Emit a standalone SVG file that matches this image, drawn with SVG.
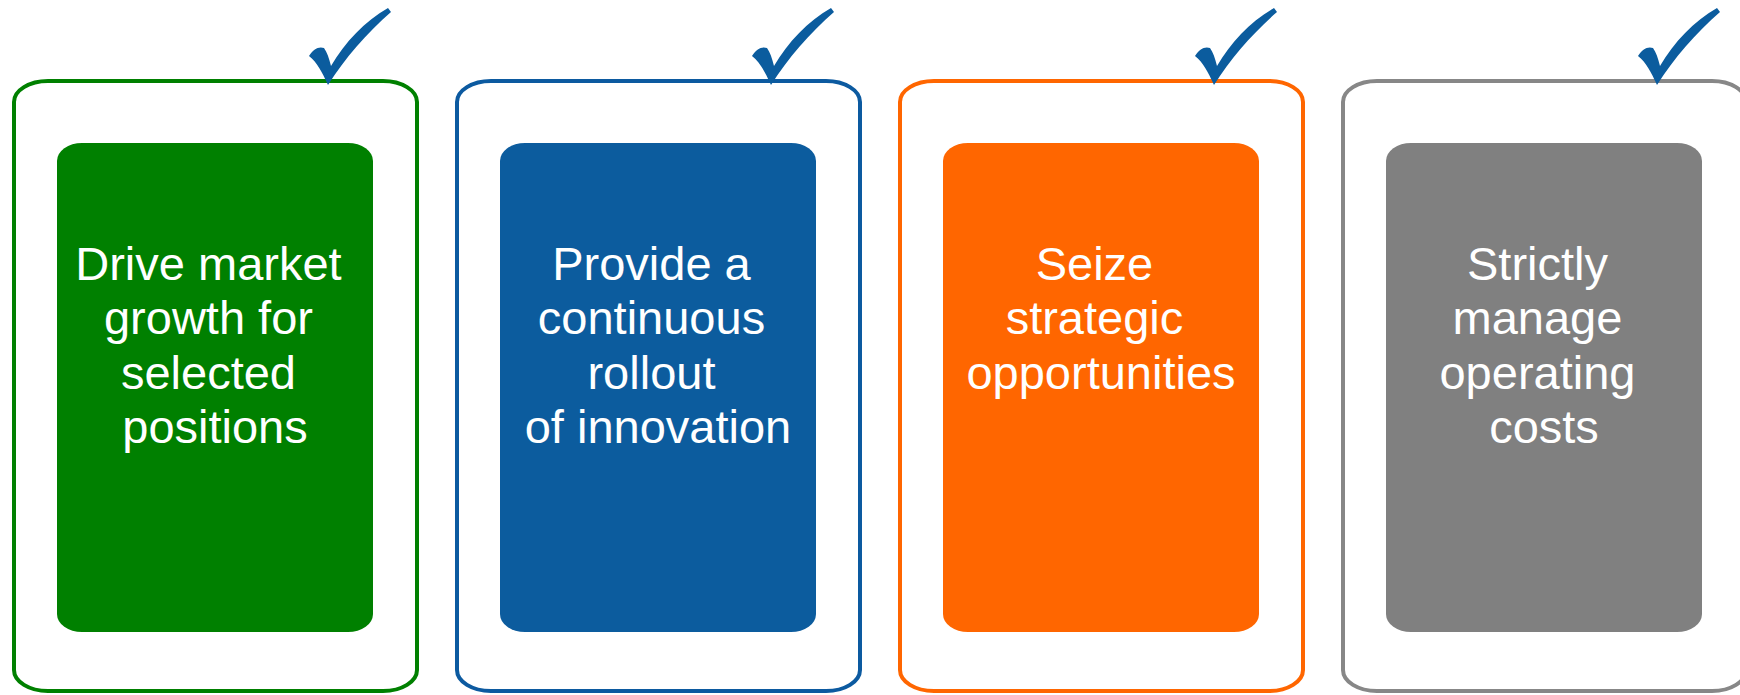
<svg xmlns="http://www.w3.org/2000/svg" width="1740" height="695" viewBox="0 0 1740 695">
  <style>
    .outer { fill: #ffffff; stroke-width: 4; }
    .inner { stroke: none; }
    .label { font-family: "Liberation Sans", Arial, sans-serif; font-size: 47px; fill: #ffffff; text-anchor: middle; }
    .check { fill: #0B5C9E; }
  </style>
  <defs>
    <path id="tick" d="M 328 85 C 322 72, 317 62, 309 56 C 313 49, 319 46, 324 48 C 327 52, 329 58, 331 66 C 345 42, 365 21, 388 8 L 391 12 C 367 33, 345 58, 328 85 Z"/>
  </defs>

  <g id="node-1">
    <rect class="outer" x="14" y="81" width="403" height="610" rx="34" ry="21" stroke="#008000"/>
    <rect class="inner" x="57" y="143" width="316" height="489" rx="25" ry="18" fill="#008000"/>
    <text class="label" x="215">
      <tspan x="215" y="280">Drive market</tspan>
      <tspan x="215" y="334">growth for</tspan>
      <tspan x="215" y="389">selected</tspan>
      <tspan x="215" y="443">positions</tspan>
    </text>
    <use href="#tick" class="check"/>
  </g>

  <g id="node-2">
    <rect class="outer" x="457" y="81" width="403" height="610" rx="34" ry="21" stroke="#0C5AA0"/>
    <rect class="inner" x="500" y="143" width="316" height="489" rx="25" ry="18" fill="#0C5C9E"/>
    <text class="label" x="658">
      <tspan x="658" y="280">Provide a</tspan>
      <tspan x="658" y="334">continuous</tspan>
      <tspan x="658" y="389">rollout</tspan>
      <tspan x="658" y="443">of innovation</tspan>
    </text>
    <use href="#tick" class="check" transform="translate(443,0)"/>
  </g>

  <g id="node-3">
    <rect class="outer" x="900" y="81" width="403" height="610" rx="34" ry="21" stroke="#FF6600"/>
    <rect class="inner" x="943" y="143" width="316" height="489" rx="25" ry="18" fill="#FF6600"/>
    <text class="label" x="1101">
      <tspan x="1101" y="280">Seize</tspan>
      <tspan x="1101" y="334">strategic</tspan>
      <tspan x="1101" y="389">opportunities</tspan>
    </text>
    <use href="#tick" class="check" transform="translate(886,0)"/>
  </g>

  <g id="node-4">
    <rect class="outer" x="1343" y="81" width="403" height="610" rx="34" ry="21" stroke="#878787"/>
    <rect class="inner" x="1386" y="143" width="316" height="489" rx="25" ry="18" fill="#808080"/>
    <text class="label" x="1544">
      <tspan x="1544" y="280">Strictly</tspan>
      <tspan x="1544" y="334">manage</tspan>
      <tspan x="1544" y="389">operating</tspan>
      <tspan x="1544" y="443">costs</tspan>
    </text>
    <use href="#tick" class="check" transform="translate(1329,0)"/>
  </g>

  <g id="connectors"></g>
</svg>
